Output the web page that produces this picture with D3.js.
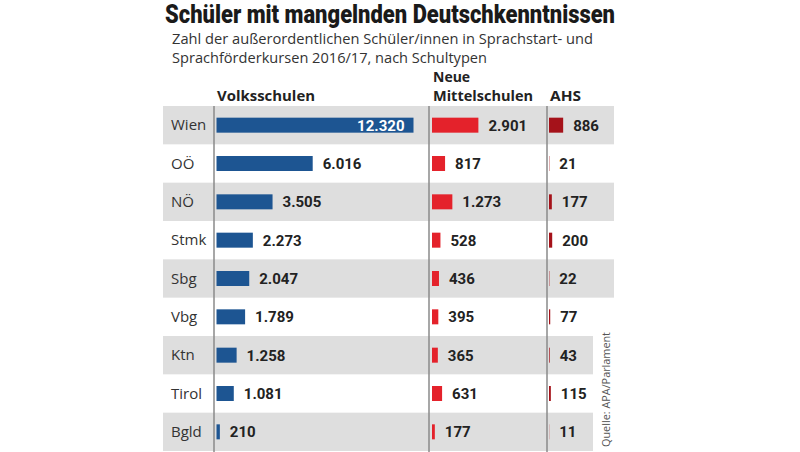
<!DOCTYPE html>
<html><head><meta charset="utf-8">
<script src="https://cdn.jsdelivr.net/npm/d3@7"></script>
<style>body{margin:0;background:#fff}svg{display:block}</style>
</head><body>
<svg id="c" width="800" height="452"></svg>
<script>
const states = ["Wien","OÖ","NÖ","Stmk","Sbg","Vbg","Ktn","Tirol","Bgld"];
const volksschulen = [12320,6016,3505,2273,2047,1789,1258,1081,210];
const mittelschulen = [2901,817,1273,528,436,395,365,631,177];
const ahs = [886,21,177,200,22,77,43,115,11];
const columnTitles = [["Volksschulen"],["Neue","Mittelschulen"],["AHS"]];
const titleText = "Schüler mit mangelnden Deutschkenntnissen";
const subtitleLines = ["Zahl der außerordentlichen Schüler/innen in Sprachstart- und","Sprachförderkursen 2016/17, nach Schultypen"];
const sourceText = "Quelle: APA/Parlament";

const svg = d3.select("#c");
const loc = d3.formatLocale({decimal:",",thousands:".",grouping:[3],currency:["","€"]});
const fmt = loc.format(",d");

const y = d3.scaleBand().domain(states).range([106,451]).paddingInner(0).paddingOuter(0);
const x = d3.scaleLinear().domain([0,12320]).range([0,197]);

// title
svg.append("text").attr("x",165).attr("y",22.5).text(titleText)
  .attr("font-family","Roboto, sans-serif").attr("font-weight",900).attr("font-size",26)
  .attr("fill","#1a1a1a").attr("textLength",450).attr("lengthAdjust","spacingAndGlyphs");
const subW=[421,315];
subtitleLines.forEach((t,i)=>{
  svg.append("text").attr("x",172).attr("y",44+i*19).text(t)
    .attr("font-family","'Open Sans', sans-serif").attr("font-size",14).attr("fill","#333")
    .attr("textLength",subW[i]).attr("lengthAdjust","spacingAndGlyphs");
});

// row bands
const bandRight = (d,i)=> (i>=6 ? 593 : 614);
svg.append("g").selectAll("rect").data(states).join("rect")
  .attr("x",163).attr("y",d=>y(d)).attr("height",y.bandwidth())
  .attr("width",(d,i)=>bandRight(d,i)-163)
  .attr("fill",(d,i)=> i%2===0 ? "#dedede" : "none");

// row labels
svg.append("g").selectAll("text").data(states).join("text")
  .attr("x",171).attr("y",d=>y(d)+y.bandwidth()/2).attr("dy","0.35em").text(d=>d)
  .attr("font-family","'Open Sans', sans-serif").attr("font-size",15).attr("fill","#333");

const cols = [
  {vals:volksschulen, axis:214, start:216.5, color:"#1d5592", titleX:217, tw:98},
  {vals:mittelschulen, axis:429, start:432, color:"#e4222b", titleX:433, tw:100},
  {vals:ahs, axis:547, start:549, color:"#a5121a", titleX:550, tw:31}
];
const barH = 15;
cols.forEach((c,ci)=>{
  svg.append("line").attr("x1",c.axis).attr("x2",c.axis).attr("y1",106).attr("y2",452)
    .attr("stroke","#8a8a8a").attr("stroke-width",1.5);
  const lines = columnTitles[ci];
  lines.forEach((t,li)=>{
    const isLast = li===lines.length-1;
    svg.append("text").attr("x",c.titleX).attr("y",101-(lines.length-1-li)*19).text(t)
      .attr("font-family","'Open Sans', sans-serif").attr("font-weight",700).attr("font-size",14).attr("fill","#222")
      .attr("textLength",isLast?c.tw:null).attr("lengthAdjust","spacingAndGlyphs");
  });
  const g = svg.append("g");
  g.selectAll("rect").data(c.vals).join("rect")
    .attr("x",c.start).attr("y",(d,i)=>y(states[i])+y.bandwidth()/2-barH/2)
    .attr("width",d=>x(d)).attr("height",barH).attr("fill",c.color);
  g.selectAll("text").data(c.vals).join("text")
    .attr("x",(d,i)=> (ci===0 && i===0) ? c.start+x(d)-9 : c.start+x(d)+10)
    .attr("text-anchor",(d,i)=> (ci===0 && i===0) ? "end" : "start")
    .attr("y",(d,i)=>y(states[i])+y.bandwidth()/2).attr("dy","0.36em")
    .text(d=>fmt(d))
    .attr("font-family","Roboto, sans-serif").attr("font-weight",700).attr("font-size",15)
    .attr("fill",(d,i)=> (ci===0 && i===0) ? "#fff" : "#222");
});

// source
svg.append("text").attr("transform","translate(610,447) rotate(-90)").text(sourceText)
  .attr("font-family","'Open Sans', sans-serif").attr("font-size",11).attr("fill","#555")
  .attr("textLength",115).attr("lengthAdjust","spacingAndGlyphs");
</script>
</body></html>
